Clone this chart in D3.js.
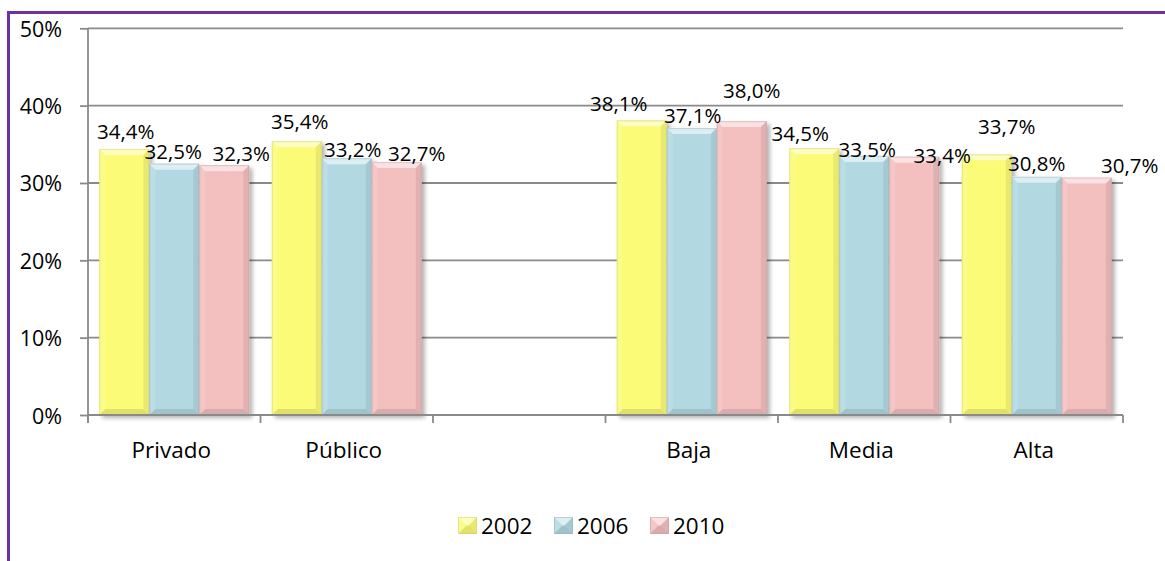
<!DOCTYPE html>
<html>
<head>
<meta charset="utf-8">
<script src="https://cdn.jsdelivr.net/npm/d3@7"></script>
<style>
  html, body { margin: 0; padding: 0; background: #fff; }
  svg { display: block; }
  text { font-family: "Open Sans", "Liberation Sans", sans-serif; fill: #000; }
</style>
</head>
<body>
<svg id="chart" width="1165" height="561"></svg>
<script>
// Categories along the x axis (the empty slot separates the two groups)
const categories = ["Privado", "Público", "", "Baja", "Media", "Alta"];
const years = ["2002", "2006", "2010"];

// Percent values per year
const values2002 = [34.4, 35.4, null, 38.1, 34.5, 33.7];
const values2006 = [32.5, 33.2, null, 37.1, 33.5, 30.8];
const values2010 = [32.3, 32.7, null, 38.0, 33.4, 30.7];

const yTicks = [0, 10, 20, 30, 40, 50];

const seriesValues = [values2002, values2006, values2010];
const seriesColors = ["#fbfb78", "#b2d9e2", "#f3bfbf"];

// Hand-placed offsets for value labels [dx, dy], per category and year
const labelNudge = [
  [[1.5, -4], [-1, 1], [17, 2]],
  [[3, -6], [6, 5], [20, 5]],
  [null, null, null],
  [[-23, -3], [1, 1], [10, -17]],
  [[-14, -1], [3, 7], [28, 12]],
  [[20, -14], [0, 0], [43, 1]]
];

const svg = d3.select("#chart");
const defs = svg.append("defs");

const shadow = defs.append("filter").attr("id", "barShadow")
  .attr("x", "-20%").attr("y", "-10%").attr("width", "150%").attr("height", "130%");
shadow.append("feDropShadow")
  .attr("dx", 3).attr("dy", 3).attr("stdDeviation", 2.2)
  .attr("flood-color", "#000").attr("flood-opacity", 0.3);

const plotLeft = 88, plotRight = 1123, plotTop = 28.3, plotBottom = 415;

const y = d3.scaleLinear().domain([0, 50]).range([plotBottom, plotTop]);
const x0 = d3.scaleBand().domain(categories).range([plotLeft, plotRight]).padding(0);
const x1 = d3.scaleBand().domain(years).range([0, x0.bandwidth()])
  .paddingInner(0).paddingOuter(0.225);

const fmt = v => d3.format(".1f")(v).replace(".", ",") + "%";

// Frame lines
svg.append("line").attr("x1", 7).attr("x2", 1165).attr("y1", 12.5).attr("y2", 12.5)
  .attr("stroke", "#7030a0").attr("stroke-width", 3);
svg.append("line").attr("x1", 8.5).attr("x2", 8.5).attr("y1", 11).attr("y2", 561)
  .attr("stroke", "#7030a0").attr("stroke-width", 3);

// Gridlines
svg.append("g").selectAll("line")
  .data(yTicks.filter(t => t > 0))
  .join("line")
  .attr("x1", plotLeft).attr("x2", plotRight)
  .attr("y1", d => y(d)).attr("y2", d => y(d))
  .attr("stroke", "#8a8a8a").attr("stroke-width", 1.8);

// Y axis
const yAxis = svg.append("g").attr("transform", `translate(${plotLeft},0)`)
  .call(d3.axisLeft(y).tickValues(yTicks).tickSize(8).tickFormat(d => d + "%"));
yAxis.select(".domain").remove();
yAxis.selectAll(".tick line").attr("stroke", "#8a8a8a").attr("stroke-width", 1.8);
yAxis.selectAll(".tick text")
  .attr("x", -26).attr("dy", null).attr("y", 8)
  .attr("text-anchor", "end")
  .style("font-size", "21.5px");
svg.append("line").attr("x1", plotLeft).attr("x2", plotLeft)
  .attr("y1", plotTop).attr("y2", plotBottom + 8)
  .attr("stroke", "#8a8a8a").attr("stroke-width", 1.8);

// Bevelled bar
function bevelBar(g, x, yTop, w, h, color, b) {
  const c = d3.color(color);
  g.append("rect").attr("x", x).attr("y", yTop).attr("width", w).attr("height", h)
    .attr("fill", color);
  const pts = (arr) => arr.map(p => p.join(",")).join(" ");
  // top
  g.append("polygon").attr("points", pts([[x, yTop], [x + w, yTop], [x + w - b, yTop + b], [x + b, yTop + b]]))
    .attr("fill", "#fff").attr("fill-opacity", 0.55);
  // left
  g.append("polygon").attr("points", pts([[x, yTop], [x + b, yTop + b], [x + b, yTop + h - b], [x, yTop + h]]))
    .attr("fill", "#fff").attr("fill-opacity", 0.12);
  // right
  g.append("polygon").attr("points", pts([[x + w, yTop], [x + w, yTop + h], [x + w - b, yTop + h - b], [x + w - b, yTop + b]]))
    .attr("fill", "#000").attr("fill-opacity", 0.07);
  // bottom
  g.append("polygon").attr("points", pts([[x, yTop + h], [x + b, yTop + h - b], [x + w - b, yTop + h - b], [x + w, yTop + h]]))
    .attr("fill", "#000").attr("fill-opacity", 0.1);
  g.append("rect").attr("x", x + 0.5).attr("y", yTop + 0.5).attr("width", w - 1).attr("height", h - 1)
    .attr("fill", "none").attr("stroke", c.darker(0.6)).attr("stroke-opacity", 0.45).attr("stroke-width", 1);
}

// Bars
const barLayer = svg.append("g").attr("filter", "url(#barShadow)");
categories.forEach((cat, ci) => {
  years.forEach((yr, si) => {
    const v = seriesValues[si][ci];
    if (v == null) return;
    const bx = x0(cat) + x1(yr);
    const top = y(v);
    bevelBar(barLayer.append("g"), bx, top, x1.bandwidth(), y(0) - top, seriesColors[si], 6);
  });
});

// X axis line and boundary ticks
svg.append("line").attr("x1", plotLeft).attr("x2", plotRight)
  .attr("y1", plotBottom).attr("y2", plotBottom)
  .attr("stroke", "#8a8a8a").attr("stroke-width", 1.8);
const bounds = categories.map(c => x0(c)).concat([x0(categories[categories.length - 1]) + x0.bandwidth()]);
svg.append("g").selectAll("line").data(bounds).join("line")
  .attr("x1", d => d).attr("x2", d => d)
  .attr("y1", plotBottom).attr("y2", plotBottom + 8)
  .attr("stroke", "#8a8a8a").attr("stroke-width", 1.8);

// Category labels
svg.append("g").selectAll("text").data(categories.filter(c => c !== "")).join("text")
  .attr("x", d => x0(d) + x0.bandwidth() / 2 - 3)
  .attr("y", 458)
  .attr("text-anchor", "middle")
  .style("font-size", "22.5px")
  .text(d => d);

// Value labels
const labelLayer = svg.append("g");
categories.forEach((cat, ci) => {
  years.forEach((yr, si) => {
    const v = seriesValues[si][ci];
    if (v == null) return;
    const [dx, dy] = labelNudge[ci][si];
    labelLayer.append("text")
      .attr("x", x0(cat) + x1(yr) + x1.bandwidth() / 2 + dx)
      .attr("y", y(v) - 6 + dy)
      .attr("text-anchor", "middle")
      .style("font-size", "20.5px")
      .text(fmt(v));
  });
});

// Legend
const legend = svg.append("g");
years.forEach((yr, i) => {
  const lx = 458 + i * 96;
  const g = legend.append("g");
  bevelBar(g, lx, 517, 19, 17, seriesColors[i], 8.5);
  legend.append("text").attr("x", lx + 23).attr("y", 534)
    .style("font-size", "22.5px").text(yr);
});
</script>
</body>
</html>
